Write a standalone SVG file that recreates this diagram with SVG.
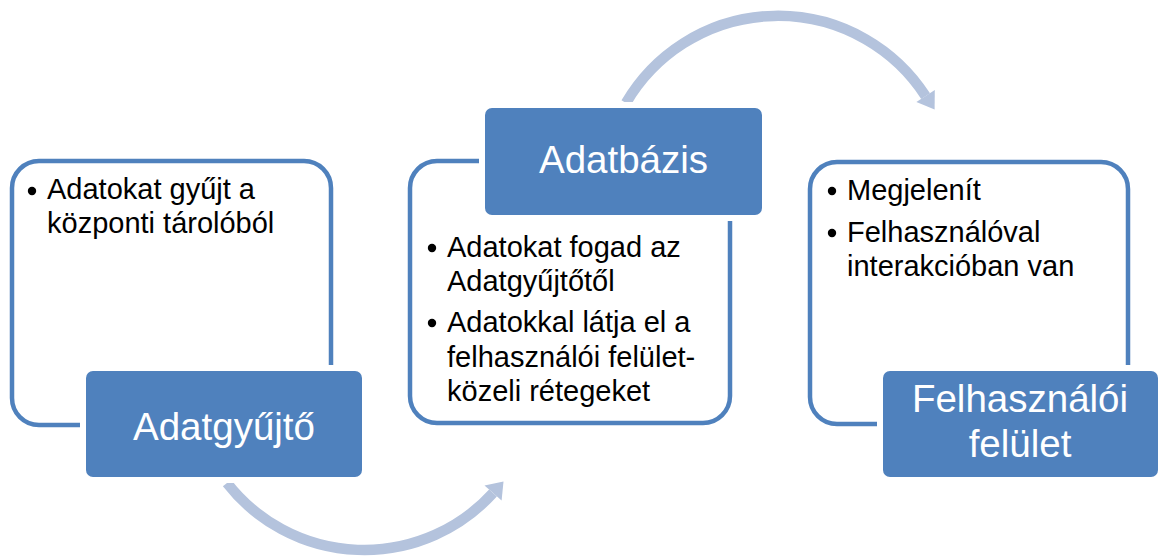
<svg xmlns="http://www.w3.org/2000/svg" width="1158" height="560" viewBox="0 0 1158 560">
  <style>
    .frame { fill: #ffffff; stroke: #4f81bd; stroke-width: 4.5; }
    .label { fill: #4f81bd; stroke: #ffffff; stroke-width: 12; paint-order: stroke; }
    .title { font-family: "Liberation Sans", Arial, sans-serif; font-size: 38.5px; fill: #ffffff; text-anchor: middle; }
    .body { font-family: "Liberation Sans", Arial, sans-serif; font-size: 29px; fill: #000000; }
    .bullet { fill: #000000; }
    .flow { fill: none; stroke: #b4c3dd; stroke-width: 10.5; }
    .head { fill: #b4c3dd; }
  </style>

  <!-- curved flow arrows between the stages -->
  <g id="connectors">
    <!-- Adatgyűjtő -> Adatbázis (under the first two boxes) -->
    <path class="flow" d="M 227 483 A 174 174 0 0 0 493 493"/>
    <polygon class="head" points="484.5,485.4 501.6,500.6 503.5,481.5"/>
    <!-- Adatbázis -> Felhasználói felület (over the top) -->
    <path class="flow" d="M 626 103 A 176 176 0 0 1 925.6 96.1"/>
    <polygon class="head" points="916.4,102.1 934.8,90.1 934.6,109.5"/>
  </g>

  <!-- stage 1 -->
  <g id="node-adatgyujto">
    <rect class="frame" x="12" y="161" width="319" height="264" rx="27"/>
    <circle class="bullet" cx="32" cy="191" r="4.2"/>
    <text class="body" x="47" y="199">Adatokat gyűjt a</text>
    <text class="body" x="47" y="233">központi tárolóból</text>
    <rect class="label" x="86" y="371" width="276" height="106" rx="7"/>
    <text class="title" x="224" y="440">Adatgyűjtő</text>
  </g>

  <!-- stage 2 -->
  <g id="node-adatbazis">
    <rect class="frame" x="410" y="161" width="320" height="262" rx="27"/>
    <circle class="bullet" cx="432" cy="248" r="4.2"/>
    <text class="body" x="447" y="257">Adatokat fogad az</text>
    <text class="body" x="447" y="291">Adatgyűjtőtől</text>
    <circle class="bullet" cx="432" cy="323" r="4.2"/>
    <text class="body" x="447" y="332">Adatokkal látja el a</text>
    <text class="body" x="447" y="367">felhasználói felület-</text>
    <text class="body" x="447" y="401">közeli rétegeket</text>
    <rect class="label" x="485" y="108" width="277" height="107" rx="7"/>
    <text class="title" x="623.5" y="173">Adatbázis</text>
  </g>

  <!-- stage 3 -->
  <g id="node-felhasznaloi-felulet">
    <rect class="frame" x="810" y="162" width="318" height="262" rx="27"/>
    <circle class="bullet" cx="832" cy="191" r="4.2"/>
    <text class="body" x="847" y="200">Megjelenít</text>
    <circle class="bullet" cx="832" cy="233" r="4.2"/>
    <text class="body" x="847" y="242">Felhasználóval</text>
    <text class="body" x="847" y="276">interakcióban van</text>
    <rect class="label" x="883" y="371" width="275" height="106" rx="7"/>
    <text class="title" x="1020" y="412">Felhasználói</text>
    <text class="title" x="1020" y="457">felület</text>
  </g>
</svg>
